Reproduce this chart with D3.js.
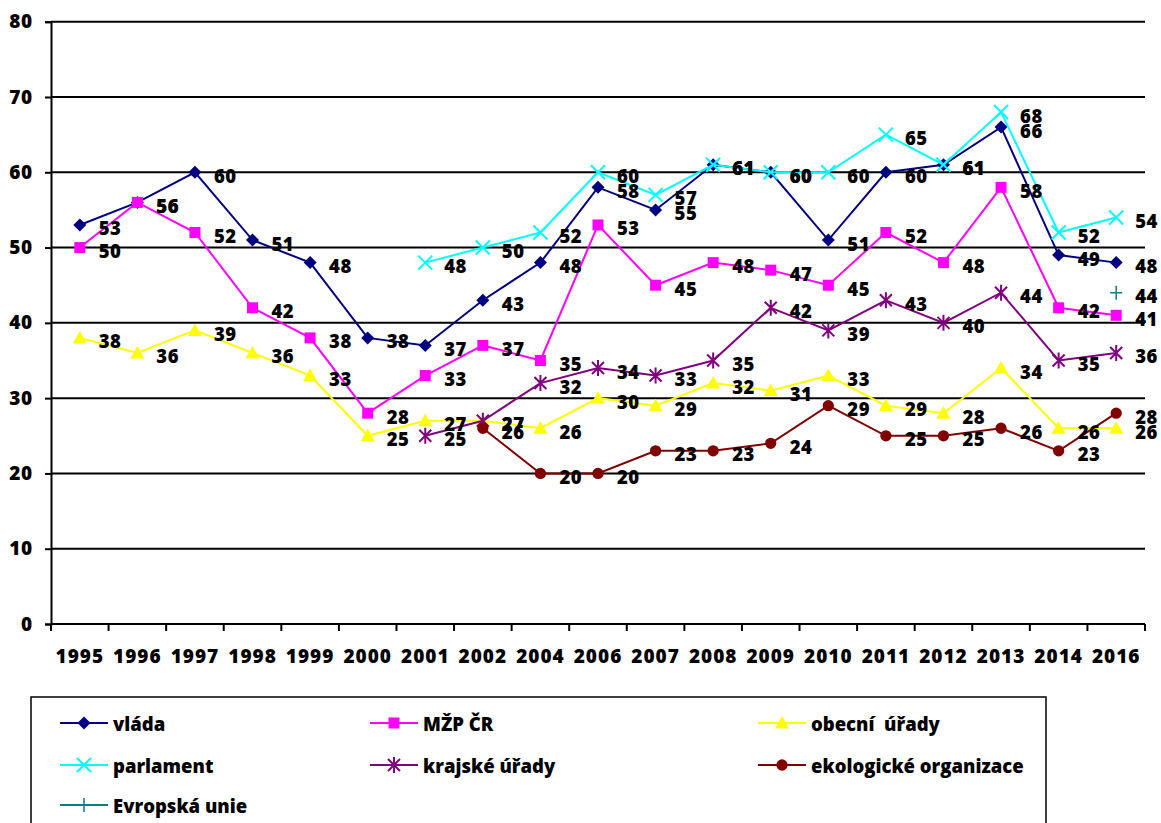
<!DOCTYPE html>
<html>
<head>
<meta charset="utf-8">
<script src="https://cdn.jsdelivr.net/npm/d3@7"></script>
<style>
  html, body { margin: 0; padding: 0; background: #fff; }
  svg { display: block; font-family: "Open Sans", "Liberation Sans", sans-serif; font-weight: 800; }
</style>
</head>
<body>
<svg id="chart" width="1161" height="823"></svg>
<script>
const categories = ["1995","1996","1997","1998","1999","2000","2001","2002","2004","2006","2007","2008","2009","2010","2011","2012","2013","2014","2016"];
const yTicks = [0,10,20,30,40,50,60,70,80];

const vlada      = [53,56,60,51,48,38,37,43,48,58,55,61,60,51,60,61,66,49,48];
const mzp        = [50,56,52,42,38,28,33,37,35,53,45,48,47,45,52,48,58,42,41];
const obecni     = [38,36,39,36,33,25,27,27,26,30,29,32,31,33,29,28,34,26,26];
const parlament  = [null,null,null,null,null,null,48,50,52,60,57,61,60,60,65,61,68,52,54];
const krajske    = [null,null,null,null,null,null,25,27,32,34,33,35,42,39,43,40,44,35,36];
const ekologicke = [null,null,null,null,null,null,null,26,20,20,23,23,24,29,25,25,26,23,28];
const evropska   = [null,null,null,null,null,null,null,null,null,null,null,null,null,null,null,null,null,null,44];

const seriesNames  = ["vláda","MŽP ČR","obecní  úřady","parlament","krajské úřady","ekologické organizace","Evropská unie"];
const seriesValues = [vlada, mzp, obecni, parlament, krajske, ekologicke, evropska];
const seriesColors = ["#000080","#FF00FF","#FFFF00","#00FFFF","#800080","#800000","#008080"];
const seriesMarkers = ["diamond","square","triangle","x","star","circle","plus"];

const svg = d3.select("#chart");
svg.append("rect").attr("width",1161).attr("height",823).attr("fill","#fff");

const x = d3.scaleBand().domain(categories).range([51,1145]).paddingInner(0).paddingOuter(0);
const y = d3.scaleLinear().domain([0,80]).range([624,21.7]);
const cx = c => x(c) + x.bandwidth()/2;

// gridlines
svg.append("g").selectAll("line").data(yTicks.filter(t => t>0)).join("line")
  .attr("x1", 51).attr("x2", 1145)
  .attr("y1", d => y(d)).attr("y2", d => y(d))
  .attr("stroke","#000").attr("stroke-width",2);

// y axis
const yAxis = svg.append("g").attr("transform","translate(51,0)")
  .call(d3.axisLeft(y).tickValues(yTicks).tickSize(6).tickPadding(12).tickFormat(d3.format("d")));
yAxis.select(".domain").attr("stroke","#000").attr("stroke-width",2);
yAxis.selectAll(".tick line").attr("stroke","#000").attr("stroke-width",2);
yAxis.selectAll(".tick text").attr("font-size",19).attr("font-weight",800)
  .attr("font-family","'Open Sans', sans-serif").attr("fill","#000").attr("letter-spacing",0.8);

// x axis
const xAxis = svg.append("g").attr("transform","translate(0,624)")
  .call(d3.axisBottom(x).tickSize(0).tickPadding(26));
xAxis.select(".domain").remove();
xAxis.append("line").attr("x1",51).attr("x2",1145).attr("stroke","#000").attr("stroke-width",2);
xAxis.selectAll(".tick text").attr("font-size",19).attr("font-weight",800)
  .attr("font-family","'Open Sans', sans-serif").attr("fill","#000").attr("letter-spacing",1);
const edges = categories.map(c => x(c)).concat([x(categories[categories.length-1]) + x.bandwidth()]);
xAxis.selectAll("line.edge").data(edges).join("line").attr("class","edge")
  .attr("x1", d=>d).attr("x2", d=>d).attr("y1",0).attr("y2",7)
  .attr("stroke","#000").attr("stroke-width",2);

function markerPath(type) {
  switch (type) {
    case "diamond": return "M0,-6.5L6.5,0L0,6.5L-6.5,0Z";
    case "square": return "M-5.5,-5.5H5.5V5.5H-5.5Z";
    case "triangle": return "M0,-7L7,5.5H-7Z";
    case "x": return "M-7,-7L7,7M-7,7L7,-7";
    case "star": return "M-6,-6L6,6M-6,6L6,-6M0,-8L0,8";
    case "circle": return d3.symbol(d3.symbolCircle, 100)();
    case "plus": return "M-6,0H6M0,-7V7";
  }
}
function isFilled(type) { return ["diamond","square","triangle","circle"].includes(type); }

function drawMarker(g, type, color) {
  const p = g.append("path").attr("d", markerPath(type));
  if (isFilled(type)) p.attr("fill", color).attr("stroke", "none");
  else p.attr("fill","none").attr("stroke", color).attr("stroke-width", type==="plus"?1.5:2);
}

const line = d3.line().defined(d => d.v != null).x(d => cx(d.c)).y(d => y(d.v));

seriesValues.forEach((vals, i) => {
  const data = categories.map((c, j) => ({c, v: vals[j]}));
  const g = svg.append("g");
  g.append("path").datum(data).attr("d", line).attr("fill","none")
    .attr("stroke", seriesColors[i]).attr("stroke-width", 2);
  data.filter(d => d.v != null).forEach(d => {
    const m = g.append("g").attr("transform", `translate(${cx(d.c)},${y(d.v)})`);
    drawMarker(m, seriesMarkers[i], seriesColors[i]);
  });
});

// data labels
seriesValues.forEach((vals, i) => {
  const data = categories.map((c, j) => ({c, v: vals[j]})).filter(d => d.v != null);
  svg.append("g").selectAll("text").data(data).join("text")
    .attr("x", d => cx(d.c) + 19)
    .attr("y", d => y(d.v) + 3)
    .attr("dominant-baseline","central")
    .attr("font-size",18.5).attr("letter-spacing",0.5).attr("fill","#000")
    .text(d => d.v);
});

// legend
svg.append("rect").attr("x",31).attr("y",697).attr("width",1015).attr("height",160)
  .attr("fill","none").attr("stroke","#000").attr("stroke-width",1.5);
const legendPos = [[60,723],[370,723],[758,723],[60,765],[370,765],[758,765],[60,805]];
seriesNames.forEach((name, i) => {
  const [lx, ly] = legendPos[i];
  const g = svg.append("g").attr("transform", `translate(${lx},${ly})`);
  g.append("line").attr("x1",0).attr("x2",48).attr("stroke",seriesColors[i]).attr("stroke-width",2);
  const m = g.append("g").attr("transform","translate(24,0)");
  drawMarker(m, seriesMarkers[i], seriesColors[i]);
  g.append("text").attr("x",53).attr("y",0).attr("dominant-baseline","central")
    .attr("font-size",18.5).attr("fill","#000").style("white-space","pre").text(name);
});
</script>
</body>
</html>
